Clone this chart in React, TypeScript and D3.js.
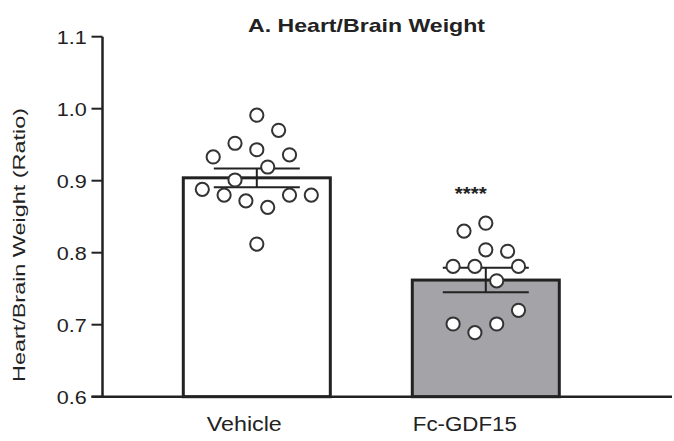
import React from "react";
import * as d3 from "d3";

// Group labels and summary statistics
const categories = ["Vehicle", "Fc-GDF15"];
const groupMeans = [0.904, 0.762];
const groupSEM = [0.013, 0.017];
const significance = ["", "****"];

// Individual animals (heart/brain weight ratio) and their swarm column
const vehicleValues = [0.991, 0.970, 0.952, 0.943, 0.933, 0.936, 0.919, 0.901, 0.888, 0.880, 0.872, 0.863, 0.880, 0.880, 0.812];
const vehicleSlots = [0, 1, -1, 0, -2, 1.5, 0.5, -1, -2.5, -1.5, -0.5, 0.5, 1.5, 2.5, 0];
const fcValues = [0.830, 0.841, 0.804, 0.802, 0.781, 0.781, 0.781, 0.761, 0.720, 0.701, 0.689, 0.701];
const fcSlots = [-1, 0, 0, 1, -1.5, -0.5, 1.5, 0.5, 1.5, -1.5, -0.5, 0.5];

const yTicks = [0.6, 0.7, 0.8, 0.9, 1.0, 1.1];
const title = "A.  Heart/Brain Weight";
const yTitle = "Heart/Brain Weight (Ratio)";

const W = 674;
const H = 441;
const FONT = "'Liberation Sans', Arial, Helvetica, sans-serif";
const INK = "#222";
const barFills = ["#ffffff", "#a3a3a8"];

export default function App() {
  const y = d3.scaleLinear().domain([0.6, 1.1]).range([396.7, 36.7]);
  const x = d3
    .scaleBand<string>()
    .domain(categories)
    .range([183.3, 559.3])
    .paddingInner(0.358)
    .paddingOuter(0);
  const axisX = 102.5;
  const slotUnit = 21.8;
  const fmt = d3.format(".1f");

  const groups = [
    { values: vehicleValues, slots: vehicleSlots },
    { values: fcValues, slots: fcSlots },
  ];

  return (
    <svg
      width={W}
      height={H}
      style={{ position: "absolute", left: 0, top: 0, background: "#fff" }}
      fontFamily={FONT}
    >
      <rect width={W} height={H} fill="#fff" />

      {/* title */}
      <text
        x={366.5}
        y={31.5}
        textAnchor="middle"
        fontSize={19}
        fontWeight="bold"
        fill={INK}
        textLength={237}
        lengthAdjust="spacingAndGlyphs"
      >
        {title}
      </text>

      {/* y axis title */}
      <text
        transform="translate(25,245) rotate(-90)"
        textAnchor="middle"
        fontSize={17}
        fill={INK}
        textLength={274}
        lengthAdjust="spacingAndGlyphs"
      >
        {yTitle}
      </text>

      {/* bars */}
      {categories.map((c, i) => {
        const x0 = x(c)!;
        return (
          <rect
            key={c}
            x={x0}
            y={y(groupMeans[i])}
            width={x.bandwidth()}
            height={y(0.6) - y(groupMeans[i])}
            fill={barFills[i]}
            stroke={INK}
            strokeWidth={3}
          />
        );
      })}

      {/* error bars (mean ± SEM) */}
      {categories.map((c, i) => {
        const cx = x(c)! + x.bandwidth() / 2;
        const hi = y(groupMeans[i] + groupSEM[i]);
        const lo = y(groupMeans[i] - groupSEM[i]);
        const half = 43;
        return (
          <g key={c} stroke={INK} strokeWidth={2}>
            <line x1={cx} x2={cx} y1={hi} y2={lo} />
            <line x1={cx - half} x2={cx + half} y1={hi} y2={hi} />
            <line x1={cx - half} x2={cx + half} y1={lo} y2={lo} />
          </g>
        );
      })}

      {/* individual points */}
      {categories.map((c, i) => {
        const cx = x(c)! + x.bandwidth() / 2;
        const g = groups[i];
        return (
          <g key={c}>
            {g.values.map((v, j) => (
              <circle
                key={j}
                cx={cx + g.slots[j] * slotUnit}
                cy={y(v)}
                r={6.6}
                fill="#fff"
                stroke="#333"
                strokeWidth={2}
              />
            ))}
          </g>
        );
      })}

      {/* significance markers */}
      {categories.map((c, i) =>
        significance[i] ? (
          <text
            key={c}
            x={x(c)! + x.bandwidth() / 2 - 15}
            y={y(d3.max(groups[i].values)!) - 23}
            textAnchor="middle"
            fontSize={19}
            fontWeight="bold"
            fill={INK}
            textLength={32}
            lengthAdjust="spacingAndGlyphs"
          >
            {significance[i]}
          </text>
        ) : null
      )}

      {/* y axis */}
      <line x1={axisX} x2={axisX} y1={y(1.1)} y2={y(0.6)} stroke={INK} strokeWidth={2.5} />
      {yTicks.map((t) => (
        <g key={t}>
          <line x1={91.5} x2={axisX} y1={y(t)} y2={y(t)} stroke={INK} strokeWidth={2} />
          <text
            x={86.7}
            y={y(t) + 6.8}
            textAnchor="end"
            fontSize={19}
            fill={INK}
            textLength={30}
            lengthAdjust="spacingAndGlyphs"
          >
            {fmt(t)}
          </text>
        </g>
      ))}

      {/* x axis */}
      <line x1={91.5} x2={672} y1={y(0.6)} y2={y(0.6)} stroke={INK} strokeWidth={2.5} />
      {categories.map((c, i) => (
        <text
          key={c}
          x={x(c)! + x.bandwidth() / 2 - (i === 0 ? 12.5 : 21)}
          y={431}
          textAnchor="middle"
          fontSize={20}
          fill={INK}
          textLength={i === 0 ? 75 : 104}
          lengthAdjust="spacingAndGlyphs"
        >
          {c}
        </text>
      ))}
    </svg>
  );
}
